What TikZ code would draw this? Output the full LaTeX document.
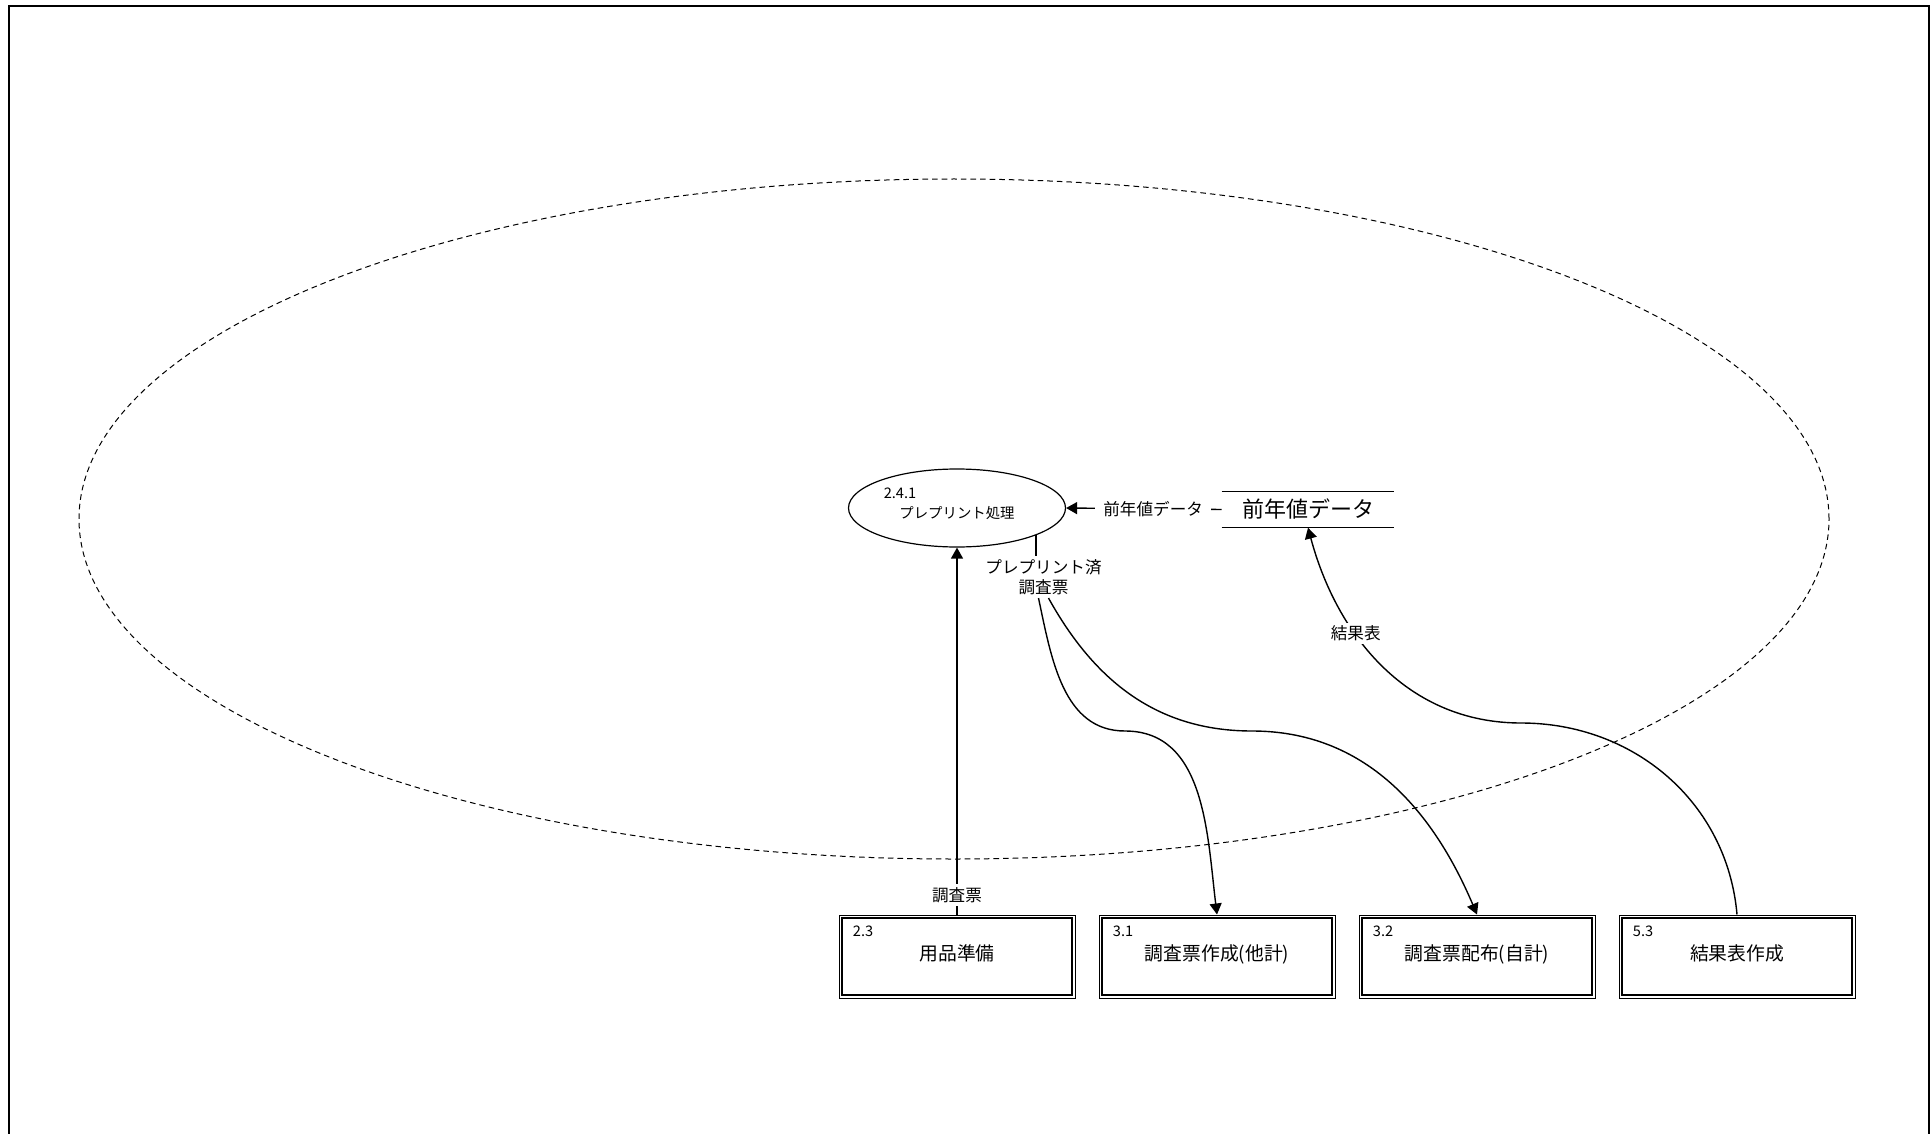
\documentclass[tikz,border=0pt]{standalone}
\usepackage{fontspec}
\setmainfont{Noto Sans CJK JP}
\usetikzlibrary{positioning,shapes.geometric,arrows.meta}

\begin{document}
\begin{tikzpicture}[
  x=0.5pt, y=0.5pt, >={Triangle[length=5.5pt,width=6pt]},
  proc/.style={draw,line width=0.5pt,minimum width=118pt,minimum height=41.5pt,inner sep=0pt,text height=6pt,text depth=2.3pt,font=\fontsize{9.4}{11}\selectfont},
  bubble/.style={draw,ellipse,line width=0.6pt,minimum width=108.5pt,minimum height=39pt,inner sep=0pt,text height=10.4pt,text depth=0pt,font=\fontsize{7.2}{9}\selectfont},
  store/.style={minimum width=86pt,minimum height=17.8pt,inner sep=0pt,font=\fontsize{11}{13}\selectfont},
  num/.style={inner sep=0pt,font=\fontsize{7.3}{8}\selectfont},
  lbl/.style={fill=white,inner sep=1.5pt,align=center,font=\fontsize{8.3}{10}\selectfont},
  flow/.style={line width=0.7pt}]
\useasboundingbox (0,0) rectangle (1932,-1134);
% frame, open at the bottom
\draw[line width=1pt] (9,-1150) -- (9,-6) -- (1929,-6) -- (1929,-1150);
% boundary of the sub-process
\node[draw,ellipse,dash pattern=on 2.8pt off 2pt,line width=0.5pt,minimum width=875pt,minimum height=340pt,inner sep=0pt] (bnd) at (954,-519) {};

\node[bubble] (pp) at (957,-508) {プレプリント処理};
\node[num] (ppno) at ([shift={(-28.5pt,7.5pt)}]pp.center) {2.4.1};
\node[store] (zen) at (1308,-509.5) {前年値データ};
\draw[line width=0.7pt] (zen.north west) -- (zen.north east) (zen.south west) -- (zen.south east);

% outside processes
\node[proc] (yohin) at (957,-956.5) {用品準備};
\node[proc,right=11.5pt of yohin] (sakusei) {調査票作成(他計)};
\node[proc,right=11.5pt of sakusei] (haifu) {調査票配布(自計)};
\node[proc,right=11.5pt of haifu] (kekka) {結果表作成};
\foreach \b/\n in {yohin/2.3,sakusei/3.1,haifu/3.2,kekka/5.3}{
  \draw[line width=1pt] ([shift={(1.7pt,-1.7pt)}]\b.north west) rectangle ([shift={(-1.7pt,1.7pt)}]\b.south east);
  \node[num,anchor=west] (\b-no) at ([shift={(7pt,-8.3pt)}]\b.north west) {\n};
}

\node[lbl] (ppl) at (1043.5,-577) {プレプリント済\\調査票};
\coordinate (m1) at (1125,-731);
\coordinate (m2) at (1252,-731);
\coordinate (m3) at (1521,-723);

\draw[flow,->] (zen.west) -- node[lbl,inner xsep=4pt,pos=0.44]{前年値データ} (pp.east);
\draw[flow,->] (yohin.north) -- node[lbl,pos=0.053]{調査票} (pp.south);
\draw[flow] (pp.-19) -- (pp.-19 |- ppl.north);
\draw[flow,->] ([xshift=-2.5pt]ppl.south) to[out=-78,in=180] (m1) to[out=0,in=97] (sakusei.north);
\draw[flow,->] ([xshift=2.5pt]ppl.south) to[out=-61,in=180] (m2) to[out=0,in=113] (haifu.north);
\draw[flow,->] (kekka.north) to[out=95,in=0] (m3) to[out=180,in=-75] node[lbl,pos=0.64]{結果表} (zen.south);
\end{tikzpicture}
\end{document}
